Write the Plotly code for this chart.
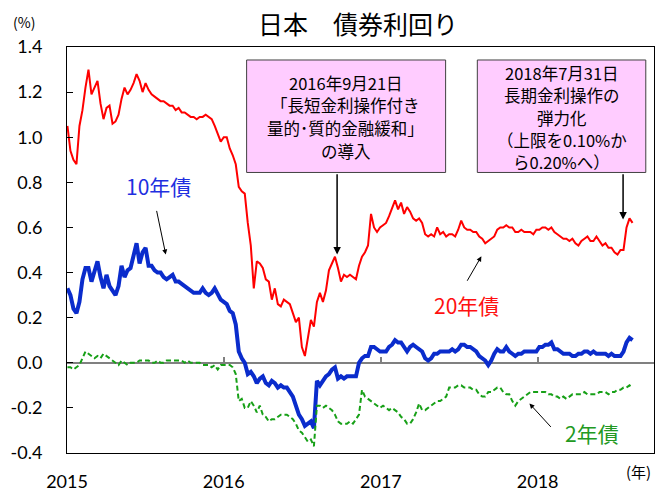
import pandas as pd
import plotly.graph_objects as go

# ---- data (weekly readings, Fridays) ----
red_2015 = [1.05, 0.94, 0.90, 0.88, 1.05, 1.12, 1.22, 1.30, 1.19, 1.22,
            1.25, 1.15, 1.08, 1.13, 1.14, 1.06, 1.07, 1.10, 1.17, 1.22,
            1.19, 1.21, 1.24, 1.28, 1.25, 1.20, 1.24, 1.21, 1.19, 1.18,
            1.17, 1.16, 1.16, 1.15, 1.14, 1.14, 1.12, 1.13, 1.11, 1.11,
            1.10, 1.09, 1.09, 1.08, 1.09, 1.09, 1.10, 1.09, 1.08, 1.05,
            1.01, 0.98]
red_2016 = [1.00, 1.00, 0.95, 0.92, 0.88, 0.78, 0.76, 0.75, 0.62, 0.52,
            0.33, 0.45, 0.44, 0.42, 0.37, 0.36, 0.28, 0.33, 0.26, 0.25,
            0.28, 0.27, 0.26, 0.22, 0.18, 0.20, 0.07, 0.03, 0.12, 0.19,
            0.16, 0.27, 0.31, 0.27, 0.32, 0.41, 0.44, 0.47, 0.42, 0.36,
            0.39, 0.38, 0.39, 0.38, 0.37, 0.43, 0.47, 0.49, 0.52, 0.66,
            0.60, 0.58, 0.60]
red_2017 = [0.61, 0.62, 0.65, 0.69, 0.72, 0.68, 0.71, 0.66, 0.69, 0.67,
            0.64, 0.63, 0.64, 0.62, 0.57, 0.56, 0.57, 0.56, 0.60, 0.57,
            0.58, 0.56, 0.57, 0.57, 0.56, 0.59, 0.63, 0.60, 0.59, 0.59,
            0.58, 0.58, 0.56, 0.55, 0.53, 0.54, 0.55, 0.56, 0.59, 0.60,
            0.60, 0.61, 0.60, 0.60, 0.58, 0.58, 0.59, 0.58, 0.58, 0.58,
            0.57, 0.59]
red_2018 = [0.59, 0.60, 0.60, 0.59, 0.60, 0.58, 0.57, 0.56, 0.55, 0.55,
            0.54, 0.55, 0.53, 0.52, 0.54, 0.55, 0.56, 0.54, 0.54, 0.56,
            0.54, 0.52, 0.53, 0.51, 0.51, 0.49, 0.48, 0.50, 0.50, 0.60,
            0.64, 0.62]

blue_2015 = [0.33, 0.30, 0.24, 0.22, 0.27, 0.37, 0.42, 0.42, 0.36, 0.40,
             0.45, 0.38, 0.33, 0.39, 0.34, 0.32, 0.30, 0.34, 0.43, 0.38,
             0.41, 0.42, 0.48, 0.53, 0.44, 0.49, 0.51, 0.43, 0.43, 0.41,
             0.40, 0.40, 0.38, 0.37, 0.38, 0.39, 0.36, 0.36, 0.35, 0.34,
             0.33, 0.32, 0.31, 0.31, 0.31, 0.33, 0.31, 0.30, 0.31, 0.33,
             0.30, 0.28]
blue_2016 = [0.27, 0.26, 0.23, 0.22, 0.17, 0.05, 0.02, 0.00, -0.05, -0.04,
             -0.06, -0.09, -0.07, -0.06, -0.09, -0.10, -0.08, -0.09, -0.11, -0.10,
             -0.11, -0.11, -0.13, -0.15, -0.19, -0.23, -0.25, -0.28, -0.27, -0.26,
             -0.29, -0.08, -0.10, -0.08, -0.06, -0.05, -0.03, -0.02, -0.07, -0.06,
             -0.07, -0.06, -0.06, -0.06, -0.06, 0.00, 0.02, 0.03, 0.03, 0.07,
             0.07, 0.06, 0.05]
blue_2017 = [0.05, 0.05, 0.07, 0.08, 0.10, 0.09, 0.09, 0.07, 0.05, 0.07,
             0.08, 0.07, 0.06, 0.05, 0.02, 0.01, 0.02, 0.04, 0.04, 0.05,
             0.05, 0.05, 0.05, 0.06, 0.05, 0.06, 0.08, 0.08, 0.07, 0.07,
             0.06, 0.05, 0.03, 0.02, 0.01, -0.01, 0.01, 0.04, 0.06, 0.05,
             0.05, 0.07, 0.05, 0.04, 0.03, 0.04, 0.04, 0.05, 0.05, 0.05,
             0.05, 0.05]
blue_2018 = [0.07, 0.07, 0.08, 0.08, 0.09, 0.06, 0.06, 0.05, 0.04, 0.04,
             0.04, 0.03, 0.03, 0.04, 0.04, 0.05, 0.05, 0.04, 0.05, 0.04,
             0.04, 0.04, 0.04, 0.03, 0.04, 0.03, 0.03, 0.03, 0.05, 0.09,
             0.11, 0.10]

green_2015 = [-0.02, -0.02, -0.03, -0.02, -0.01, 0.02, 0.05, 0.04, 0.03, 0.02,
              0.03, 0.02, 0.04, 0.03, 0.02, 0.01, 0.00, -0.01, 0.01, 0.00,
              -0.01, 0.00, 0.00, 0.00, 0.01, 0.01, 0.01, 0.01, 0.00, 0.00,
              0.01, 0.00, 0.00, 0.01, 0.01, 0.01, 0.01, 0.01, 0.01, 0.00,
              0.01, 0.00, 0.00, 0.00, 0.00, -0.01, -0.01, -0.01, -0.02, -0.01,
              -0.03, -0.01]
green_2016 = [-0.01, -0.01, -0.01, -0.02, -0.05, -0.17, -0.16, -0.20, -0.20, -0.17,
              -0.19, -0.22, -0.19, -0.23, -0.24, -0.26, -0.25, -0.25, -0.24, -0.23,
              -0.23, -0.23, -0.24, -0.25, -0.27, -0.30, -0.31, -0.33, -0.35, -0.34,
              -0.37, -0.19, -0.19, -0.20, -0.19, -0.20, -0.21, -0.23, -0.26, -0.27,
              -0.27, -0.27, -0.26, -0.27, -0.25, -0.23, -0.12, -0.15, -0.16, -0.17,
              -0.18, -0.19, -0.20]
green_2017 = [-0.19, -0.20, -0.21, -0.20, -0.21, -0.22, -0.24, -0.25, -0.27, -0.27,
              -0.25, -0.22, -0.18, -0.21, -0.21, -0.20, -0.19, -0.18, -0.17, -0.17,
              -0.16, -0.15, -0.11, -0.11, -0.11, -0.10, -0.10, -0.11, -0.11, -0.11,
              -0.12, -0.12, -0.14, -0.15, -0.15, -0.13, -0.13, -0.12, -0.11, -0.11,
              -0.13, -0.14, -0.14, -0.17, -0.19, -0.17, -0.16, -0.15, -0.14, -0.13,
              -0.13, -0.13]
green_2018 = [-0.13, -0.13, -0.13, -0.14, -0.14, -0.15, -0.15, -0.16, -0.15, -0.16,
              -0.15, -0.14, -0.14, -0.14, -0.14, -0.13, -0.14, -0.14, -0.14, -0.14,
              -0.13, -0.13, -0.13, -0.14, -0.13, -0.13, -0.12, -0.12, -0.11, -0.11,
              -0.10, -0.11]

yield_20y = red_2015 + red_2016 + red_2017 + red_2018
yield_10y = blue_2015 + blue_2016 + blue_2017 + blue_2018
yield_2y = green_2015 + green_2016 + green_2017 + green_2018
dates = pd.date_range("2015-01-02", periods=len(yield_20y), freq="W-FRI")

year_ticks = ["2015-01-01", "2016-01-01", "2017-01-01", "2018-01-01"]
year_labels = ["2015", "2016", "2017", "2018"]
y_ticks = [-0.4, -0.2, 0.0, 0.2, 0.4, 0.6, 0.8, 1.0, 1.2, 1.4]
y_labels = ["-0.4", "-0.2", "0.0", "0.2", "0.4", "0.6", "0.8", "1.0", "1.2", "1.4"]

box1_lines = ["2016年9月21日", "「長短金利操作付き", "量的･質的金融緩和」", "の導入"]
box2_lines = ["2018年7月31日", "長期金利操作の", "弾力化", "（上限を0.10%か", "ら0.20%へ）"]

JP = "Noto Sans CJK JP"
NUM = "Lato, Noto Sans CJK JP"

fig = go.Figure()
fig.add_trace(go.Scatter(x=dates, y=yield_2y, mode="lines", xaxis="x2",
                         line=dict(color="#17a017", width=2, dash="5px,3px"),
                         hoverinfo="skip"))
fig.add_trace(go.Scatter(x=dates, y=yield_20y, mode="lines",
                         line=dict(color="#ff0000", width=2), hoverinfo="skip"))
fig.add_trace(go.Scatter(x=dates, y=yield_10y, mode="lines",
                         line=dict(color="#0a2ccc", width=4), hoverinfo="skip"))

fig.update_layout(
    width=656, height=493,
    margin=dict(l=67, r=1, t=47, b=38),
    paper_bgcolor="white", plot_bgcolor="white",
    showlegend=False,
    xaxis=dict(range=["2015-01-01", "2018-09-29"], tickvals=year_ticks, ticktext=year_labels,
               ticks="", showgrid=False, zeroline=False, showline=True, mirror=True,
               linecolor="black", linewidth=1, ticklabelstandoff=12,
               tickfont=dict(family=NUM, size=18, color="black")),
    xaxis2=dict(matches="x", overlaying="x", anchor="free", position=0.223,
                tickvals=year_ticks[1:], ticks="inside", ticklen=5, tickcolor="#808080",
                tickwidth=1.5, showticklabels=False, showline=False, showgrid=False,
                zeroline=False),
    yaxis=dict(range=[-0.4, 1.4], tickvals=y_ticks, ticktext=y_labels,
               ticks="inside", ticklen=6, tickcolor="black", showgrid=False,
               zeroline=True, zerolinecolor="#808080", zerolinewidth=1.5,
               showline=True, mirror=True, linecolor="black", linewidth=1,
               ticklabelstandoff=20,
               tickfont=dict(family=NUM, size=18, color="black")),
)

box_fill = "#ffccff"
box_line = "#404040"
fig.add_shape(type="rect", xref="paper", yref="paper", x0=0.306, x1=0.645, y0=0.691, y1=0.968,
              fillcolor=box_fill, line=dict(color=box_line, width=1))
fig.add_shape(type="rect", xref="paper", yref="paper", x0=0.699, x1=0.986, y0=0.691, y1=0.968,
              fillcolor=box_fill, line=dict(color=box_line, width=1))

def txt(x, y, text, size, color="black", family=JP):
    fig.add_annotation(xref="paper", yref="paper", x=x, y=y, text=text, showarrow=False,
                       xanchor="center", yanchor="middle",
                       font=dict(family=family, size=size, color=color))

txt(0.495, 1.059, "日本　債券利回り", 25)
txt(-0.073, 1.061, "(%)", 14)
txt(0.973, -0.045, "(年)", 15)

# box text, one annotation per line (line step ~22.5 px = 0.055 paper)
for i, line in enumerate(box1_lines):
    txt(0.475, 0.912 - i * 0.0557, line, 16.5)
for i, line in enumerate(box2_lines):
    txt(0.843, 0.936 - i * 0.0550, line, 16.5)

txt(0.156, 0.657, "10年債", 21, "#1f2fe0")
txt(0.680, 0.365, "20年債", 21, "#ff1010")
txt(0.895, 0.049, "2年債", 21, "#229922")

def arrow(x, y, ax, ay, width=1.0):
    fig.add_annotation(x=x, y=y, ax=ax, ay=ay, xref="x", yref="y", axref="x", ayref="y",
                       text="", showarrow=True, arrowhead=2, arrowsize=1,
                       arrowwidth=width, arrowcolor="black")

arrow("2015-08-19", 0.48, "2015-07-28", 0.68)
arrow("2017-08-23", 0.472, "2017-07-19", 0.357)
arrow("2017-12-13", -0.181, "2018-02-04", -0.291)
arrow("2016-09-21", 0.48, "2016-09-21", 0.843, 1.5)
arrow("2018-07-19", 0.635, "2018-07-19", 0.843, 1.5)

fig.write_html("out.html", config={"displayModeBar": False},
               post_script="document.body.style.margin='0px';")
